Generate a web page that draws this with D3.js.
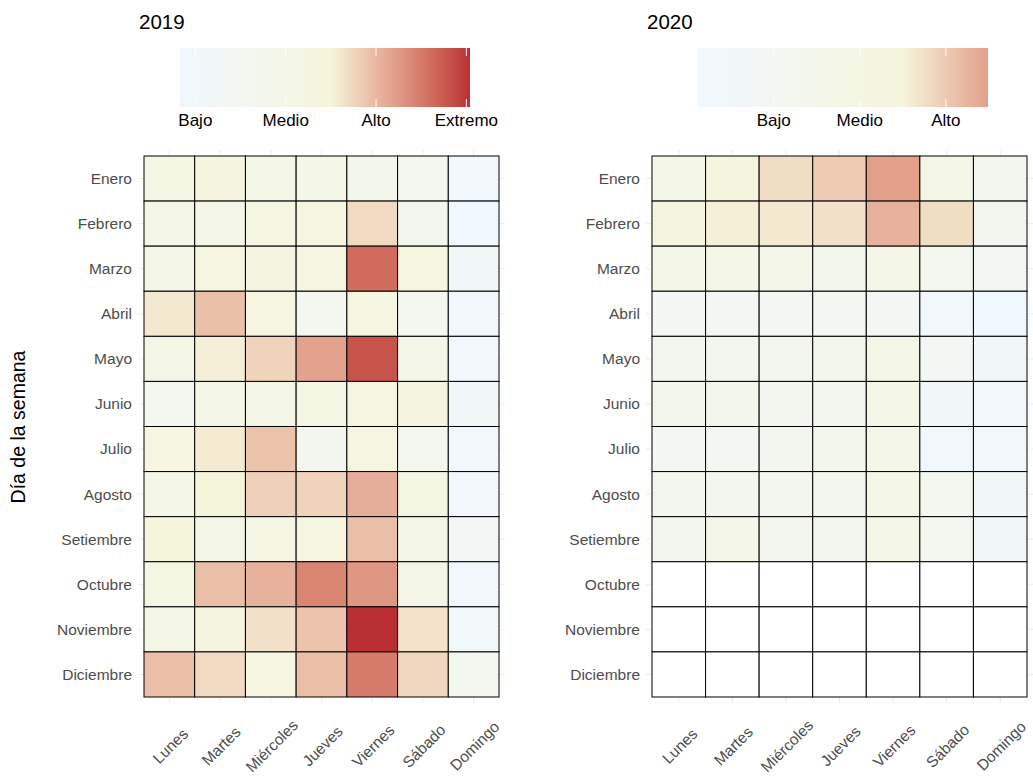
<!DOCTYPE html>
<html>
<head>
<meta charset="utf-8">
<script src="https://cdn.jsdelivr.net/npm/d3@7"></script>
<style>
  body { margin: 0; background: #fff; }
  svg { font-family: "Liberation Sans", Arial, Helvetica, sans-serif; }
  .tick-label { fill: #4d4d4d; font-size: 15.5px; }
</style>
</head>
<body>
<div id="chart"></div>
<script>
      // months (rows) and days (columns)
      var months = ["Enero", "Febrero", "Marzo", "Abril", "Mayo", "Junio", "Julio",
                    "Agosto", "Setiembre", "Octubre", "Noviembre", "Diciembre"];
      var days = ["Lunes", "Martes", "Miércoles", "Jueves", "Viernes", "Sábado", "Domingo"];

      // level per cell (Lunes .. Domingo)
      var values2019 = [
        [2.10, 2.35, 2.00, 2.00, 1.85, 1.60, 0.90],
        [2.00, 1.95, 2.20, 2.30, 2.72, 1.70, 0.83],
        [2.00, 2.30, 2.25, 2.30, 3.62, 2.30, 1.25],
        [2.60, 2.93, 2.30, 1.65, 2.30, 1.65, 0.90],
        [2.05, 2.55, 2.78, 3.18, 3.80, 1.95, 0.88],
        [1.55, 2.00, 2.05, 2.10, 2.30, 2.35, 1.20],
        [2.30, 2.58, 2.92, 1.75, 2.30, 1.65, 0.90],
        [2.00, 2.50, 2.80, 2.78, 3.08, 2.10, 0.92],
        [2.50, 2.05, 2.15, 2.30, 2.95, 2.05, 1.30],
        [2.10, 2.95, 3.05, 3.42, 3.28, 2.05, 0.92],
        [2.05, 2.35, 2.67, 2.90, 4.04, 2.65, 1.05],
        [2.95, 2.72, 2.30, 2.95, 3.50, 2.75, 1.60]
      ];

      var values2020 = [
        [1.90, 2.42, 2.79, 2.98, 3.49, 1.90, 1.30],
        [2.45, 2.57, 2.64, 2.74, 3.29, 2.79, 1.30],
        [1.80, 1.80, 1.60, 1.50, 1.80, 1.20, 1.10],
        [0.85, 0.85, 1.00, 1.00, 0.90, 0.30, 0.12],
        [1.30, 1.30, 1.30, 1.45, 1.80, 0.85, 0.55],
        [1.55, 1.55, 1.30, 1.30, 1.80, 0.55, 0.20],
        [0.90, 1.00, 1.30, 1.45, 1.75, 0.30, 0.25],
        [1.40, 1.30, 1.40, 1.40, 1.80, 1.20, 0.70],
        [1.40, 1.75, 1.40, 1.40, 1.80, 1.20, 0.70],
        [null, null, null, null, null, null, null],
        [null, null, null, null, null, null, null],
        [null, null, null, null, null, null, null]
      ];

      var levelBreaks = [1, 2, 3, 4];
      var levelLabels = ["Bajo", "Medio", "Alto", "Extremo"];
      var midpoint = 2.5;

      var width = 1033, height = 779;

      var svg = d3.select("#chart").append("svg")
          .attr("width", width)
          .attr("height", height);

      var lowCol = "#f0f8ff", midCol = "#f5f5dc", highCol = "#b20e28";

      // diverging fill like ggplot's gradient2 (rescaled around the midpoint)
      function makeFill(ext) {
          var d = Math.max(midpoint - ext[0], ext[1] - midpoint);
          var lowI = d3.interpolateLab(lowCol, midCol),
              highI = d3.interpolateLab(midCol, highCol);
          return function(v) {
              var t = 0.5 + (v - midpoint) / (2 * d);
              t = Math.max(0, Math.min(1, t));
              return t < 0.5 ? lowI(t * 2) : highI((t - 0.5) * 2);
          };
      }

      function drawPanel(opt) {
          var values = opt.values;
          var flat = [];
          values.forEach(function(row, i) {
              row.forEach(function(v, j) {
                  flat.push({month: months[i], day: days[j], v: v});
              });
          });
          var ext = d3.extent(flat.filter(function(d) { return d.v != null; }), function(d) { return d.v; });
          var fill = makeFill(ext);

          var g = svg.append("g");

          var x = d3.scaleBand().domain(days).range([opt.x0, opt.x1]);
          var y = d3.scaleBand().domain(months).range([156, 697]);

          // grid lines (peek out around the tiles)
          var pad = 6;
          g.append("g").selectAll("line").data(days).enter().append("line")
              .attr("x1", function(d) { return x(d) + x.bandwidth() / 2; })
              .attr("x2", function(d) { return x(d) + x.bandwidth() / 2; })
              .attr("y1", 156 - pad).attr("y2", 697 + pad)
              .attr("stroke", "#ebebeb").attr("stroke-width", 1);
          g.append("g").selectAll("line").data(months).enter().append("line")
              .attr("y1", function(d) { return y(d) + y.bandwidth() / 2; })
              .attr("y2", function(d) { return y(d) + y.bandwidth() / 2; })
              .attr("x1", opt.x0 - pad).attr("x2", opt.x1 + pad)
              .attr("stroke", "#ebebeb").attr("stroke-width", 1);

          // tiles
          g.append("g").selectAll("rect").data(flat).enter().append("rect")
              .attr("x", function(d) { return x(d.day); })
              .attr("y", function(d) { return y(d.month); })
              .attr("width", x.bandwidth())
              .attr("height", y.bandwidth())
              .attr("fill", function(d) { return d.v == null ? "#ffffff" : fill(d.v); })
              .attr("stroke", "#000")
              .attr("stroke-width", 1);

          // y labels
          g.append("g").selectAll("text").data(months).enter().append("text")
              .attr("class", "tick-label")
              .attr("x", opt.x0 - 12)
              .attr("y", function(d) { return y(d) + y.bandwidth() / 2; })
              .attr("dy", "0.35em")
              .attr("text-anchor", "end")
              .text(function(d) { return d; });

          // x labels, rotated
          g.append("g").selectAll("text").data(days).enter().append("text")
              .attr("class", "tick-label")
              .attr("text-anchor", "middle")
              .attr("dy", "0.35em")
              .attr("transform", function(d) {
                  return "translate(" + (x(d) + x.bandwidth() / 2 + 1) + ",746) rotate(-45)";
              })
              .text(function(d) { return d; });

          // title
          svg.append("text")
              .attr("x", opt.titleX).attr("y", 29)
              .attr("font-size", "20.5px")
              .attr("fill", "#000")
              .text(opt.title);

          // colour bar legend
          var lx = d3.scaleLinear().domain(ext).range([opt.lx0, opt.lx0 + 290]);
          var gradId = "grad" + opt.title;
          var grad = svg.append("defs").append("linearGradient")
              .attr("id", gradId)
              .attr("x1", "0%").attr("x2", "100%").attr("y1", "0%").attr("y2", "0%");
          d3.range(0, 1.0001, 0.02).forEach(function(s) {
              grad.append("stop")
                  .attr("offset", (s * 100) + "%")
                  .attr("stop-color", fill(ext[0] + s * (ext[1] - ext[0])));
          });
          var lg = svg.append("g");
          lg.append("rect")
              .attr("x", opt.lx0).attr("y", 48)
              .attr("width", 290).attr("height", 59)
              .attr("fill", "url(#" + gradId + ")");
          var br = levelBreaks.filter(function(b) { return b >= ext[0] && b <= ext[1]; });
          br.forEach(function(b) {
              lg.append("line").attr("x1", lx(b)).attr("x2", lx(b)).attr("y1", 48).attr("y2", 56)
                  .attr("stroke", "#fff").attr("stroke-opacity", 0.9);
              lg.append("line").attr("x1", lx(b)).attr("x2", lx(b)).attr("y1", 99).attr("y2", 107)
                  .attr("stroke", "#fff").attr("stroke-opacity", 0.9);
          });
          lg.selectAll("text").data(br).enter().append("text")
              .attr("x", function(d) { return lx(d); })
              .attr("y", 126)
              .attr("text-anchor", "middle")
              .attr("font-size", "17px")
              .attr("fill", "#000")
              .text(function(d) { return levelLabels[levelBreaks.indexOf(d)]; });
      }

      drawPanel({values: values2019, x0: 144, x1: 499, title: "2019", titleX: 139, lx0: 180});
      drawPanel({values: values2020, x0: 652, x1: 1027, title: "2020", titleX: 647, lx0: 698});

      // y axis title
      svg.append("text")
          .attr("transform", "translate(25,427) rotate(-90)")
          .attr("text-anchor", "middle")
          .attr("font-size", "19.5px")
          .attr("fill", "#000")
          .text("Día de la semana");
</script>
</body>
</html>
